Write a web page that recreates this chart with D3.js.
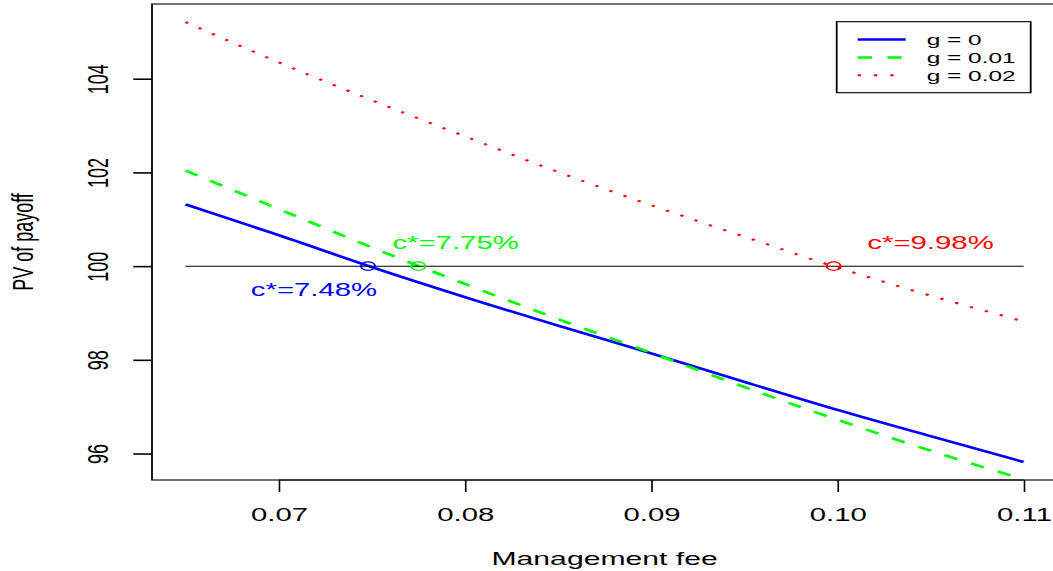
<html>
<head>
<script src="https://cdnjs.cloudflare.com/ajax/libs/d3/7.8.5/d3.min.js"></script>
<style>
  body { margin: 0; background: #fff; }
  text { font-family: "Liberation Sans", Arial, sans-serif; }
</style>
</head>
<body>
<div id="chart"></div>
<script>
// the original picture is stretched sideways, so we draw in a narrow box and stretch it
const W = 1053, H = 571;
const S = 1.63;
const VW = W / S;

// data
const fee = [0.065, 0.07, 0.075, 0.08, 0.085, 0.09, 0.095, 0.10, 0.105, 0.11];
const pvG0 = [101.32, 100.66, 99.98, 99.34, 98.73, 98.14, 97.53, 96.93, 96.37, 95.82];
const pvG1 = [102.04, 101.22, 100.40, 99.62, 98.87, 98.15, 97.42, 96.72, 96.06, 95.45];
const pvG2 = [105.21, 104.35, 103.54, 102.77, 102.01, 101.30, 100.63, 99.97, 99.37, 98.82];

const seriesNames = ["g = 0", "g = 0.01", "g = 0.02"];
const colors = ["#0000ff", "#00ff00", "#ff0000"];
const dashes = [null, "8.8,9.4", "2,8"];

const cStar = [0.0748, 0.0775, 0.0998];
const cLabels = ["c*=7.48%", "c*=7.75%", "c*=9.98%"];
const cLabelX = [0.0719, 0.0795, 0.105];
const cLabelY = [99.5, 100.5, 100.5];

const xTicks = [0.07, 0.08, 0.09, 0.10, 0.11];
const yTicks = [96, 98, 100, 102, 104];

const svg = d3.select("#chart").append("svg")
  .attr("width", W).attr("height", H)
  .attr("viewBox", `0 0 ${VW} ${H}`)
  .attr("preserveAspectRatio", "none");

const x = d3.scaleLinear().domain([0.0632, 0.1118]).range([152 / S, 1057.2 / S]);
const y = d3.scaleLinear().domain([95.435, 105.595]).range([480, 4]);

const all = [pvG0, pvG1, pvG2];

// lines
const line = d3.line().x((d, i) => x(fee[i])).y(d => y(d)).curve(d3.curveMonotoneX);
all.forEach((s, k) => {
  svg.append("path")
    .attr("d", line(s))
    .attr("fill", "none")
    .attr("stroke", colors[k])
    .attr("stroke-width", k == 2 ? 2 : 2.5)
    .attr("stroke-dasharray", dashes[k]);
});

// reference line at 100
svg.append("line")
  .attr("x1", x(0.065)).attr("x2", x(0.11))
  .attr("y1", y(100)).attr("y2", y(100))
  .attr("stroke", "#000").attr("stroke-width", 1);

// break-even points
svg.selectAll(".cs").data(cStar).enter().append("circle")
  .attr("cx", d => x(d)).attr("cy", y(100)).attr("r", 4.3)
  .attr("fill", "none")
  .attr("stroke", (d, i) => colors[i])
  .attr("stroke-width", 1.2);

svg.selectAll(".cl").data(cLabels).enter().append("text")
  .attr("x", (d, i) => x(cLabelX[i]))
  .attr("y", (d, i) => y(cLabelY[i]))
  .attr("dy", "0.35em")
  .attr("text-anchor", "middle")
  .attr("font-size", 18)
  .attr("fill", (d, i) => colors[i])
  .text(d => d);

// box
svg.append("rect")
  .attr("x", x(0.0632)).attr("y", 4)
  .attr("width", x(0.1118) - x(0.0632)).attr("height", 476)
  .attr("fill", "none").attr("stroke", "#000").attr("stroke-width", 1.1);

// x axis
const gx = svg.append("g").attr("transform", `translate(0,480)`)
  .call(d3.axisBottom(x).tickValues(xTicks).tickSize(12).tickFormat(d3.format(".2f")));
gx.select(".domain").remove();
gx.append("line").attr("x1", x(0.07)).attr("x2", x(0.11)).attr("stroke", "#000").attr("stroke-width", 1.1);
gx.selectAll(".tick line").attr("stroke-width", 1);
gx.selectAll("text").attr("y", 41).attr("dy", 0).attr("font-size", 18).attr("fill", "#000")
  .attr("font-family", "Liberation Sans, Arial, sans-serif");

// y axis
const gy = svg.append("g").attr("transform", `translate(${x(0.0632)},0)`)
  .call(d3.axisLeft(y).tickValues(yTicks).tickSize(11.5));
gy.select(".domain").remove();
gy.selectAll(".tick line").attr("stroke-width", 1.6);
gy.selectAll("text")
  .attr("x", 0).attr("dy", 0)
  .attr("transform", `translate(${-44 / S},0) rotate(-90)`)
  .attr("text-anchor", "middle")
  .attr("font-size", 18).attr("fill", "#000")
  .attr("font-family", "Liberation Sans, Arial, sans-serif");

// axis titles
svg.append("text")
  .attr("x", (x(0.0632) + x(0.1118)) / 2).attr("y", 565)
  .attr("text-anchor", "middle").attr("font-size", 18.5)
  .text("Management fee");
svg.append("text")
  .attr("transform", `translate(${33 / S},242) rotate(-90)`)
  .attr("text-anchor", "middle").attr("font-size", 18)
  .text("PV of payoff");

// legend
const lg = svg.append("g");
lg.append("rect")
  .attr("x", 836.7 / S).attr("y", 21.7)
  .attr("width", (1030.7 - 836.7) / S).attr("height", 71)
  .attr("fill", "#fff").attr("stroke", "#000").attr("stroke-width", 1.1);
seriesNames.forEach((nm, k) => {
  const yy = 39.5 + k * 17.9;
  lg.append("line")
    .attr("x1", 857.7 / S).attr("x2", 905.7 / S)
    .attr("y1", yy).attr("y2", yy)
    .attr("stroke", colors[k])
    .attr("stroke-width", k == 2 ? 2 : 2.5)
    .attr("stroke-dasharray", dashes[k]);
  lg.append("text")
    .attr("x", 926.7 / S).attr("y", yy).attr("dy", "0.35em")
    .attr("font-size", 15)
    .text(nm);
});
</script>
</body>
</html>
